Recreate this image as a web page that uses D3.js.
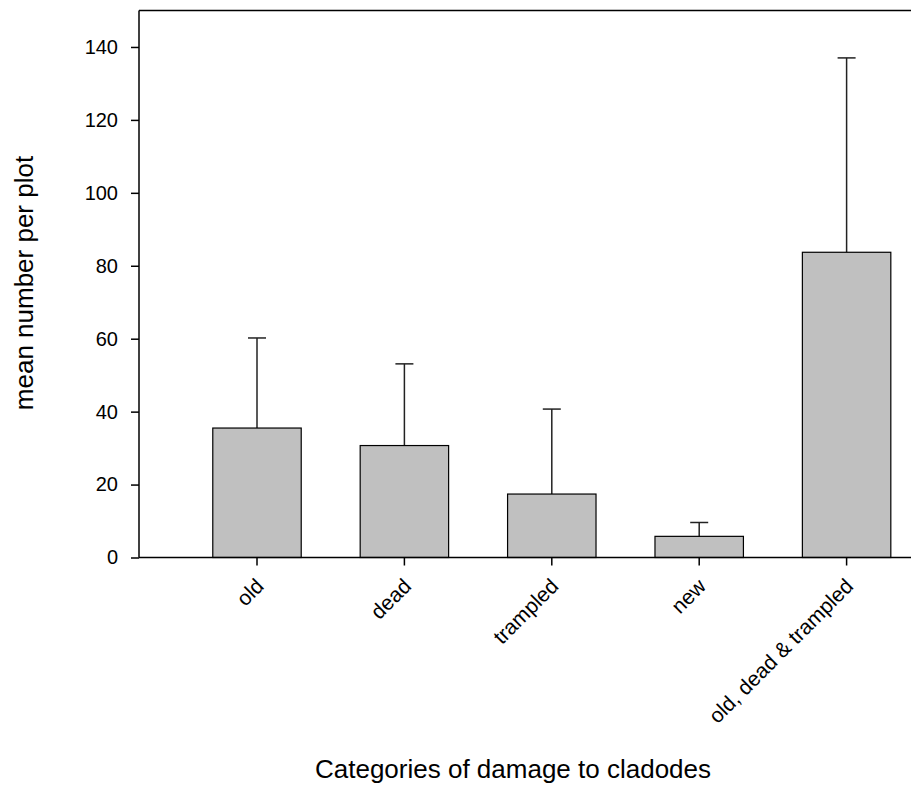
<!DOCTYPE html>
<html><head><meta charset="utf-8">
<script src="https://cdn.jsdelivr.net/npm/d3@7/dist/d3.min.js"></script>
<style>body{margin:0;background:#fff;} text{font-family:"Liberation Sans",Arial,sans-serif;}</style>
</head><body>
<svg id="c" width="911" height="786"></svg>
<script>
const categories = ["old", "dead", "trampled", "new", "old, dead & trampled"];
const means = [35.5, 30.7, 17.4, 5.8, 83.7];
const upperErr = [60.2, 53.1, 40.7, 9.6, 137.0];
const yTicks = [0, 20, 40, 60, 80, 100, 120, 140];

(function () {
const svg = d3.select("#c");
const pLeft = 139, pRight = 911, pTop = 10.5, pBottom = 557.5;
const y = d3.scaleLinear().domain([0, 150]).range([pBottom, pTop]);
const x = d3.scaleBand().domain(categories).range([183.3, 920.3]).padding(0);
const barW = x.bandwidth() * 0.6;
const cx = d => x(d) + x.bandwidth() / 2;

// frame top line
svg.append("line").attr("x1", pLeft).attr("x2", pRight).attr("y1", pTop).attr("y2", pTop)
  .attr("stroke", "#000").attr("stroke-width", 1.5);

// error bars
const eg = svg.append("g");
categories.forEach((c, i) => {
  eg.append("line").attr("x1", cx(c)).attr("x2", cx(c))
    .attr("y1", y(means[i])).attr("y2", y(upperErr[i]))
    .attr("stroke", "#222").attr("stroke-width", 1.5);
  eg.append("line").attr("x1", cx(c) - 9).attr("x2", cx(c) + 9)
    .attr("y1", y(upperErr[i])).attr("y2", y(upperErr[i]))
    .attr("stroke", "#222").attr("stroke-width", 1.5);
});

// bars
svg.append("g").selectAll("rect").data(categories).join("rect")
  .attr("x", d => cx(d) - barW / 2)
  .attr("width", barW)
  .attr("y", (d, i) => y(means[i]))
  .attr("height", (d, i) => pBottom - y(means[i]))
  .attr("fill", "#c0c0c0").attr("stroke", "#000").attr("stroke-width", 1.2);

// y axis
const ya = svg.append("g").attr("transform", `translate(${pLeft},0)`)
  .call(d3.axisLeft(y).tickValues(yTicks).tickSize(8).tickPadding(13));
ya.select(".domain").attr("d", `M0,${pBottom}V${pTop}`).attr("stroke-width", 1.5);
ya.selectAll(".tick line").attr("stroke-width", 1.5);
ya.selectAll("text").attr("font-size", 20).attr("fill", "#000")
  .attr("font-family", "Liberation Sans, Arial, sans-serif");

// x axis
const xa = svg.append("g").attr("transform", `translate(0,${pBottom})`)
  .call(d3.axisBottom(x).tickSize(8).tickPadding(4));
xa.select(".domain").attr("d", `M${pLeft},0H${pRight}`).attr("stroke-width", 1.5);
xa.selectAll(".tick line").attr("stroke-width", 1.5);
xa.selectAll("text").attr("font-size", 21).attr("fill", "#000")
  .attr("font-family", "Liberation Sans, Arial, sans-serif")
  .attr("text-anchor", "end").attr("dy", null)
  .attr("transform", "translate(8,30) rotate(-45)")
  .attr("y", 0).attr("x", 0);

// axis titles
svg.append("text").attr("x", 513).attr("y", 778).attr("text-anchor", "middle")
  .attr("font-size", 26).text("Categories of damage to cladodes");
svg.append("text").attr("transform", "translate(33,283) rotate(-90)")
  .attr("text-anchor", "middle").attr("font-size", 26).text("mean number per plot");
})();
</script>
</body></html>
